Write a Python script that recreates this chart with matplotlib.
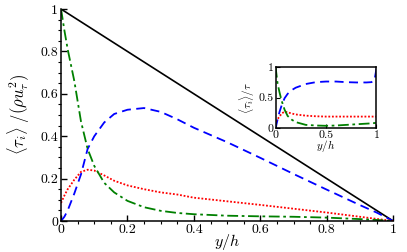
import matplotlib
matplotlib.use("Agg")
import matplotlib.pyplot as plt
from matplotlib.ticker import MultipleLocator, FuncFormatter

plt.rcParams['font.family'] = 'serif'
plt.rcParams['font.serif'] = ['cmr10', 'DejaVu Serif']
plt.rcParams['mathtext.fontset'] = 'cm'
plt.rcParams['axes.formatter.use_mathtext'] = True

# main panel: stresses normalised by rho*u_tau^2
y_h = [0, 0.01, 0.02, 0.04, 0.06, 0.08, 0.1, 0.13, 0.16, 0.2, 0.25, 0.3,
       0.35, 0.4, 0.5, 0.6, 0.7, 0.8, 0.9, 0.95, 1.0]
tau_total = [1.0, 0.99, 0.98, 0.96, 0.94, 0.92, 0.9, 0.87, 0.84, 0.8, 0.75, 0.7,
             0.65, 0.6, 0.5, 0.4, 0.3, 0.2, 0.1, 0.05, 0.0]
tau_blue = [0, 0.02, 0.05, 0.13, 0.22, 0.34, 0.40, 0.465, 0.505, 0.525, 0.533, 0.515,
            0.48, 0.44, 0.372, 0.298, 0.222, 0.148, 0.075, 0.04, 0]
tau_red = [0.085, 0.12, 0.15, 0.195, 0.232, 0.242, 0.238, 0.215, 0.19, 0.168, 0.15, 0.135,
           0.125, 0.11, 0.093, 0.076, 0.058, 0.04, 0.02, 0.01, 0]
tau_green = [1.0, 0.9, 0.81, 0.66, 0.47, 0.34, 0.26, 0.18, 0.135, 0.095, 0.065, 0.048,
             0.038, 0.032, 0.025, 0.022, 0.02, 0.016, 0.009, 0.005, 0]

# inset: ratio to total stress
y_h_in = [0, 0.02, 0.04, 0.06, 0.09, 0.12, 0.16, 0.2, 0.3, 0.4, 0.5, 0.6, 0.7,
          0.8, 0.9, 0.95, 0.98, 1.0]
r_blue = [0, 0.14, 0.27, 0.37, 0.49, 0.56, 0.62, 0.66, 0.72, 0.75, 0.76, 0.76, 0.75,
          0.745, 0.745, 0.75, 0.78, 0.97]
r_red = [0.11, 0.15, 0.19, 0.24, 0.27, 0.26, 0.24, 0.225, 0.205, 0.195, 0.19, 0.19, 0.19,
         0.19, 0.19, 0.19, 0.19, 0.19]
r_green = [1.0, 0.73, 0.58, 0.45, 0.3, 0.2, 0.14, 0.1, 0.055, 0.045, 0.04, 0.045, 0.055,
           0.065, 0.075, 0.08, 0.085, 0.09]

fmt = FuncFormatter(lambda v, p: '%g' % v)

fig = plt.figure(figsize=(4.07, 2.52), dpi=100)
ax = fig.add_axes([0.150, 0.123, 0.816, 0.841])

ax.plot(y_h, tau_total, color='black', lw=1.2)
ax.plot(y_h, tau_blue, color='blue', lw=1.3, dashes=(5, 3))
ax.plot(y_h, tau_red, color='red', lw=1.3, ls=(0, (1, 1)))
ax.plot(y_h, tau_green, color='green', lw=1.3, dashes=(6, 2, 1.5, 2))

ax.set_xlim(0, 1)
ax.set_ylim(0, 1)
ax.spines['top'].set_visible(False)
ax.spines['right'].set_visible(False)
for s in ['left', 'bottom']:
    ax.spines[s].set_linewidth(1.1)
ax.xaxis.set_major_locator(MultipleLocator(0.2))
ax.xaxis.set_minor_locator(MultipleLocator(0.05))
ax.yaxis.set_major_locator(MultipleLocator(0.2))
ax.yaxis.set_minor_locator(MultipleLocator(0.05))
ax.xaxis.set_major_formatter(fmt)
ax.yaxis.set_major_formatter(fmt)
ax.tick_params(which='major', direction='in', length=4.5, width=1.0, labelsize=10, pad=2)
ax.tick_params(which='minor', direction='out', length=2.5, width=0.8)
ax.set_xlabel(r'$y/h$', fontsize=11.5, labelpad=-3)
ax.set_ylabel(r'$\langle\tau_i\rangle\ /(\rho u_\tau^2)$', fontsize=12, labelpad=6)

# inset
axi = fig.add_axes([0.677, 0.491, 0.248, 0.244])
axi.plot(y_h_in, r_blue, color='blue', lw=1.3, dashes=(5, 3))
axi.plot(y_h_in, r_red, color='red', lw=1.3, ls=(0, (1, 1)))
axi.plot(y_h_in, r_green, color='green', lw=1.3, dashes=(6, 2, 1.5, 2))
axi.set_xlim(0, 1)
axi.set_ylim(0, 1)
axi.set_xticks([0, 0.5, 1])
axi.set_yticks([0, 0.5, 1])
axi.xaxis.set_major_formatter(fmt)
axi.yaxis.set_major_formatter(fmt)
for s in axi.spines.values():
    s.set_linewidth(1.1)
axi.tick_params(direction='in', length=3, width=0.8, labelsize=8.5, pad=1.5)
axi.set_xlabel(r'$y/h$', fontsize=8, labelpad=-1)
axi.set_ylabel(r'$\langle\tau_i\rangle/\tau$', fontsize=8, labelpad=1)

fig.savefig('out.png', dpi=100)
